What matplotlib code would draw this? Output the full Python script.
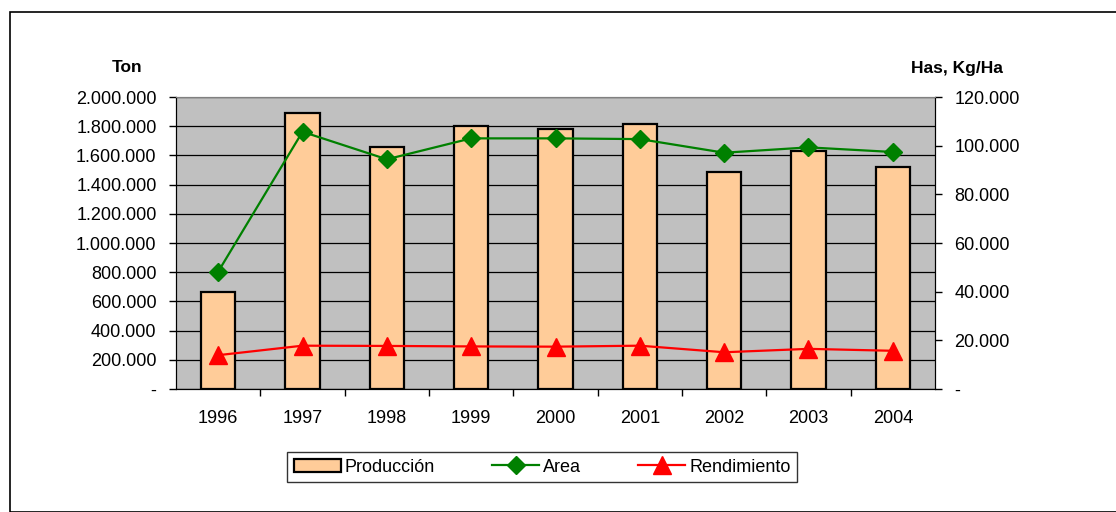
import matplotlib
matplotlib.use("Agg")
import matplotlib.pyplot as plt
from matplotlib.patches import Rectangle
from matplotlib.ticker import FuncFormatter, MultipleLocator

plt.rcParams['font.family'] = ['Liberation Sans', 'DejaVu Sans']

# datos
anios = ["1996", "1997", "1998", "1999", "2000", "2001", "2002", "2003", "2004"]
produccion = [662000, 1892000, 1660000, 1801000, 1783000, 1817000, 1484000, 1632000, 1523000]
area = [48200, 105700, 94400, 103000, 103000, 102700, 97100, 99300, 97400]
rendimiento = [13900, 17800, 17700, 17500, 17400, 17800, 15100, 16500, 15700]


def miles(v, pos):
    if v == 0:
        return "-"
    return f"{int(round(v)):,}".replace(",", ".")


fig = plt.figure(figsize=(11.16, 5.12), dpi=100)
# marco exterior
fig.patches.append(Rectangle((10 / 1116, 0), 1.2, 1 - 12 / 512, transform=fig.transFigure,
                             fill=False, edgecolor="black", linewidth=1.2))

ax = fig.add_axes([176 / 1116, 1 - 389 / 512, 759 / 1116, 292 / 512])
ax.set_facecolor("#C0C0C0")
x = list(range(len(anios)))

ax.bar(x, produccion, width=0.41, color="#FFCC99", edgecolor="black", linewidth=1.6,
       label="Producción", zorder=3)
ax.set_xlim(-0.5, len(anios) - 0.5)
ax.set_ylim(0, 2000000)
ax.yaxis.set_major_locator(MultipleLocator(200000))
ax.yaxis.set_major_formatter(FuncFormatter(miles))
ax.grid(axis="y", color="black", linewidth=0.9, zorder=1)
ax.set_axisbelow(True)
ax.set_xticks(x)
ax.set_xticklabels(anios)
ax.set_xticks([i + 0.5 for i in x[:-1]], minor=True)
ax.tick_params(axis="x", which="major", length=0, pad=15, labelsize=13)
ax.tick_params(axis="x", which="minor", length=5, width=1)
ax.tick_params(axis="y", length=5, width=1, labelsize=13, pad=9)

ax2 = ax.twinx()
ax2.plot(x, area, color="#008000", linewidth=1.6, marker="D", markersize=9,
         label="Area", zorder=4)
ax2.plot(x, rendimiento, color="#FF0000", linewidth=1.6, marker="^", markersize=13,
         label="Rendimiento", zorder=4)
ax2.set_ylim(0, 120000)
ax2.yaxis.set_major_locator(MultipleLocator(20000))
ax2.yaxis.set_major_formatter(FuncFormatter(miles))
ax2.tick_params(axis="y", length=5, width=1, labelsize=13, pad=9)

for a in (ax, ax2):
    a.spines["top"].set_color("#808080")
    a.spines["left"].set_color("black")
    a.spines["right"].set_color("black")
    a.spines["bottom"].set_color("black")

fig.text(127 / 1116, 1 - 68 / 512, "Ton", ha="center", va="center", fontsize=12.5,
         fontweight="bold")
fig.text(1003 / 1116, 1 - 68 / 512, "Has, Kg/Ha", ha="right", va="center", fontsize=12.5,
         fontweight="bold")

h1, l1 = ax.get_legend_handles_labels()
h2, l2 = ax2.get_legend_handles_labels()
fig.legend(h1 + h2, l1 + l2, loc="center", bbox_to_anchor=(542 / 1116, 1 - 467 / 512),
           ncol=3, frameon=True, fancybox=False, edgecolor="black", fontsize=13,
           handlelength=2.6, columnspacing=3.2, handletextpad=0.2, borderpad=0.35,
           borderaxespad=0)

fig.savefig("out.png", dpi=100)
